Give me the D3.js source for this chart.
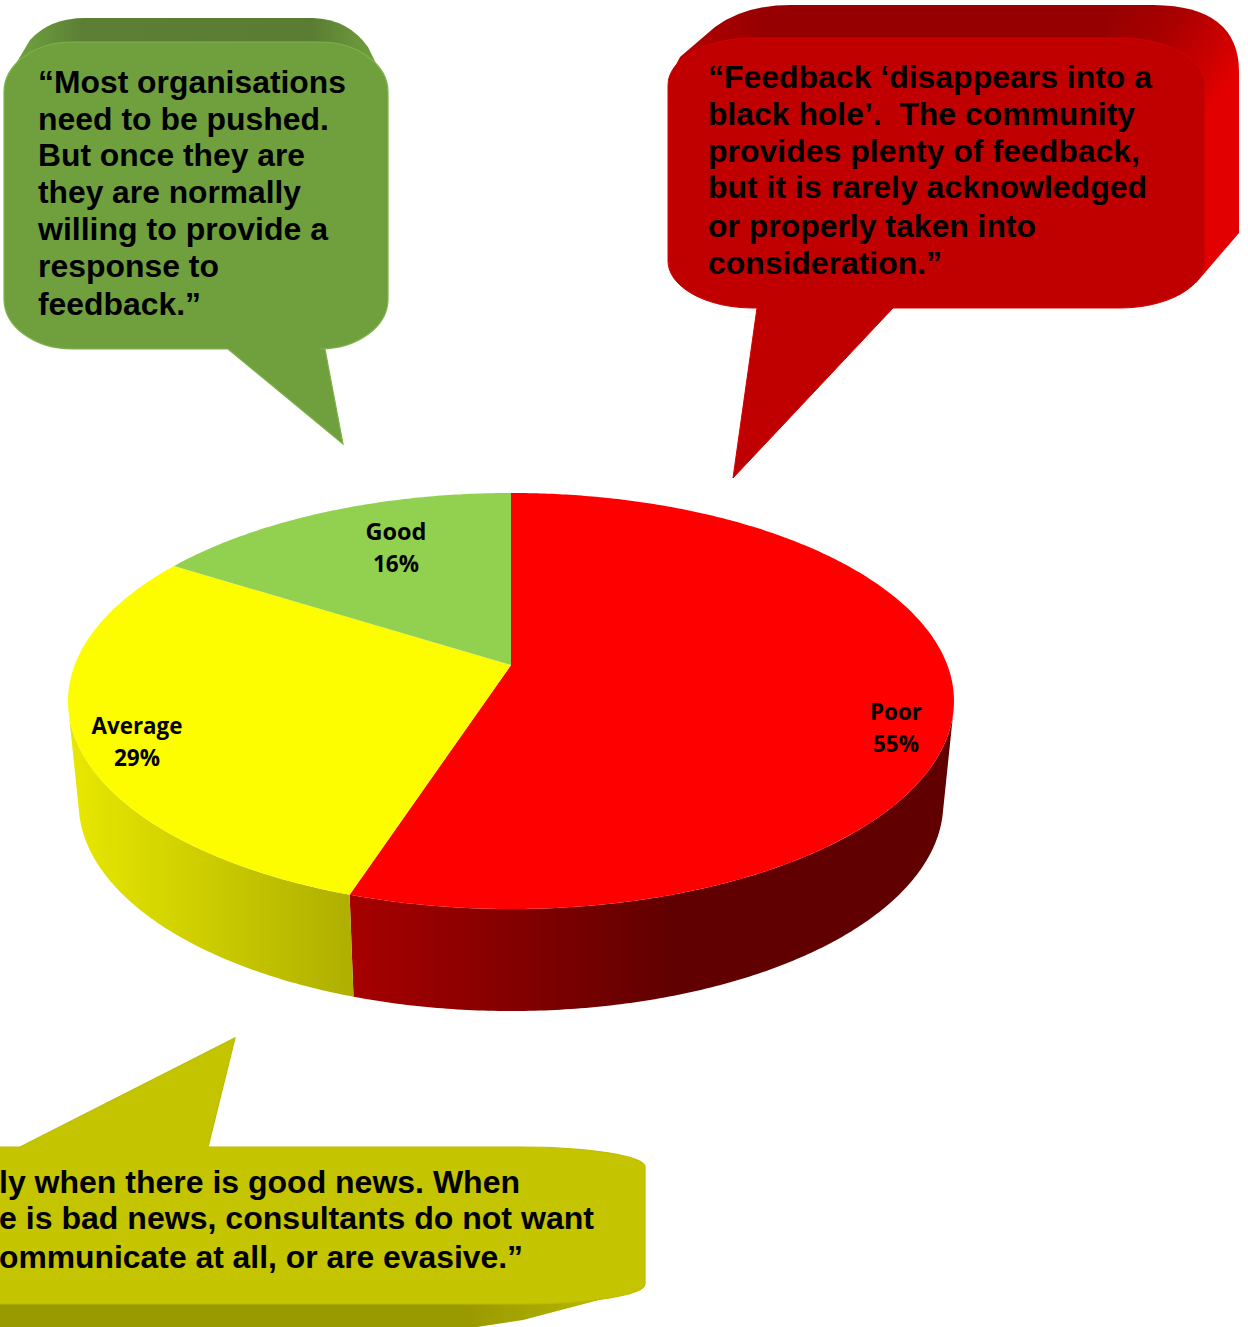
<!DOCTYPE html>
<html>
<head>
<meta charset="utf-8">
<script src="https://cdn.jsdelivr.net/npm/d3@7/dist/d3.min.js"></script>
<style>
  html, body { margin: 0; padding: 0; background: #fff; overflow: hidden; }
  svg { display: block; }
  .quote { font-family: "Liberation Sans", Arial, sans-serif; font-weight: 700; font-size: 31px; fill: #000; }
  .slice-label { font-family: "Open Sans", "Noto Sans", sans-serif; font-weight: 700; font-size: 24px; fill: #000; text-anchor: middle; }
</style>
</head>
<body>
<script>
// Survey results
const categories = ["Poor", "Average", "Good"];
const shares = [55, 29, 16];
const topColours = ["#ff0000", "#fdfd00", "#92d050"];

// Quotes, one entry per line
const greenQuote = ["“Most organisations", "need to be pushed.", "But once they are", "they are normally", "willing to provide a", "response to", "feedback.”"];
const redQuote = ["“Feedback ‘disappears into a", "black hole’.  The community", "provides plenty of feedback,", "but it is rarely acknowledged", "or properly taken into", "consideration.”"];
const yellowQuote = ["ly when there is good news. When", "e is bad news, consultants do not want", "ommunicate at all, or are evasive.”"];

// Fitted line widths and baselines for each quote
const greenWidths = [308, 291, 267, 263, 290, 181, 163];
const greenBaselines = [93, 130, 166, 203, 240, 277, 315];
const redWidths = [444, 427, 432, 439, 328, 234];
const redBaselines = [88, 125, 162, 198, 237, 274];
const yellowWidths = [521, 595, 524];
const yellowBaselines = [1193, 1229, 1268];

// Label anchors, as centre x and the two baselines
const labelX = [896, 137, 396];
const labelNameY = [720, 734, 540];
const labelWidths = [[52, 46], [91, 46], [61, 46]];

const W = 1248, H = 1327;
const svg = d3.select("body").append("svg").attr("width", W).attr("height", H);
const defs = svg.append("defs");

function gradient(id, x1, x2, stops, y1 = 0, y2 = 0) {
  const g = defs.append("linearGradient").attr("id", id)
    .attr("gradientUnits", "userSpaceOnUse")
    .attr("x1", x1).attr("x2", x2).attr("y1", y1).attr("y2", y2);
  stops.forEach(([o, c]) => g.append("stop").attr("offset", o).attr("stop-color", c));
  return `url(#${id})`;
}

// Pie disc seen in perspective: a circle passed through a homography, so the
// centre of the pie sits above the centre of the visible ellipse.
const apex = { x: 511, y: 665 };
const radiusX = 436.3, radiusY = 201.8, tilt = 0.173;
const depth = 102, baseShrink = 0.976;

function rimTop(a) {
  const u = Math.sin(a), v = -Math.cos(a), w = 1 - tilt * v;
  return [apex.x + radiusX * u / w, apex.y + radiusY * v / w];
}
function rimBase(a) {
  const [x, y] = rimTop(a);
  return [apex.x + (x - apex.x) * baseShrink, y + depth];
}
const sampleAngles = (a0, a1) => {
  const n = Math.max(2, Math.ceil(Math.abs(a1 - a0) / 0.01));
  return d3.range(n + 1).map(i => a0 + (a1 - a0) * i / n);
};
const polyline = d3.line();

const arcs = d3.pie().sort(null).value(d => d).startAngle(0).endAngle(2 * Math.PI)(shares);

// Rim wall, drawn first so the top face covers its upper edge. The wall only
// shows between the two silhouette angles on either side of the disc.
const wallFills = [
  gradient("wallRed", 345, 677, [[0, "#a80000"], [1, "#600000"]]),
  gradient("wallYellow", 80, 345, [[0, "#e6e600"], [1, "#b0b000"]])
];
const wallSpans = [
  [Math.PI * 0.575, arcs[0].endAngle],
  [arcs[1].startAngle, Math.PI * 1.425]
];
svg.append("g").selectAll("path").data(wallSpans).join("path")
  .attr("fill", (d, i) => wallFills[i])
  .attr("d", ([a0, a1]) => {
    const angles = sampleAngles(a0, a1);
    return polyline(angles.map(rimTop).concat(angles.slice().reverse().map(rimBase))) + "Z";
  });

// Top face slices
svg.append("g").selectAll("path").data(arcs).join("path")
  .attr("fill", (d, i) => topColours[i])
  .attr("d", d => polyline([[apex.x, apex.y]].concat(sampleAngles(d.startAngle, d.endAngle).map(rimTop))) + "Z");

// Slice labels
const labels = svg.append("g").selectAll("g").data(categories).join("g");
labels.append("text").attr("class", "slice-label")
  .attr("x", (d, i) => labelX[i]).attr("y", (d, i) => labelNameY[i])
  .attr("textLength", (d, i) => labelWidths[i][0]).attr("lengthAdjust", "spacingAndGlyphs")
  .text(d => d);
labels.append("text").attr("class", "slice-label")
  .attr("x", (d, i) => labelX[i]).attr("y", (d, i) => labelNameY[i] + 32)
  .attr("textLength", (d, i) => labelWidths[i][1]).attr("lengthAdjust", "spacingAndGlyphs")
  .text((d, i) => shares[i] + "%");

// Callout bubble: rounded box with elliptical corners and a pointed tail on
// the top or bottom edge.
function bubble(x0, y0, x1, y1, rx, ry, tail) {
  const c = (x, y) => `A${rx},${ry} 0 0 1 ${x},${y}`;
  let d = `M${x0 + rx},${y0}`;
  if (tail.side === "top") d += `L${tail.from},${y0}L${tail.tipX},${tail.tipY}L${tail.to},${y0}`;
  d += `L${x1 - rx},${y0}` + c(x1, y0 + ry) + `L${x1},${y1 - ry}` + c(x1 - rx, y1);
  if (tail.side === "bottom") d += `L${tail.from},${y1}L${tail.tipX},${tail.tipY}L${tail.to},${y1}`;
  d += `L${x0 + rx},${y1}` + c(x0, y1 - ry) + `L${x0},${y0 + ry}` + c(x0 + rx, y0) + "Z";
  return d;
}

function quoteLines(lines, widths, baselines, x) {
  svg.append("g").selectAll("text").data(lines).join("text")
    .attr("class", "quote")
    .attr("x", x).attr("y", (d, i) => baselines[i])
    .attr("textLength", (d, i) => widths[i]).attr("lengthAdjust", "spacingAndGlyphs")
    .style("white-space", "pre")
    .text(d => d);
}

// Green callout
svg.append("path")
  .attr("d", "M5,82 L30,40 Q50,18 85,18 L313,18 Q348,19 368,47 L387,86 L387,110 L5,110 Z")
  .attr("fill", gradient("greenBack", 4, 388, [[0, "#70a03e"], [0.07, "#6c9b3c"], [0.2, "#5c7f35"], [0.8, "#5a7d33"], [0.93, "#6a973b"], [1, "#70a03e"]]));
svg.append("path")
  .attr("d", bubble(4, 42, 388, 349, 68, 50, { side: "bottom", from: 325, tipX: 343, tipY: 444, to: 228 }))
  .attr("fill", "#70a03e").attr("stroke", "#7cb349").attr("stroke-width", 1.2);
quoteLines(greenQuote, greenWidths, greenBaselines, 38);

// Red callout: top band, then the lit side wall
svg.append("path")
  .attr("d", "M668,80 L680,57 L715,27 Q745,5 791,5 L1110,5 L1110,120 L700,120 Z")
  .attr("fill", gradient("redBack", 668, 1110, [[0, "#c00000"], [0.1, "#a80000"], [0.22, "#960000"], [1, "#960000"]]));
svg.append("path")
  .attr("d", "M1109,5 L1154,5 Q1239,6 1239,72 L1239,233 L1196,283 L1109,200 Z")
  .attr("fill", gradient("redSide", 1110, 1225, [[0, "#960000"], [0.45, "#aa0000"], [0.8, "#cc0000"], [1, "#e20000"]], 5, 85));
svg.append("path")
  .attr("d", bubble(668, 38, 1205, 308, 85, 47, { side: "bottom", from: 893, tipX: 733, tipY: 478, to: 757 }))
  .attr("fill", "#c00000").attr("stroke", "#d40000").attr("stroke-width", 1);
quoteLines(redQuote, redWidths, redBaselines, 708);

// Olive callout, running off the left edge of the page
svg.append("path")
  .attr("d", "M618,1295 L523,1320 L477,1327 L-10,1327 L-10,1280 L618,1280 Z")
  .attr("fill", gradient("oliveBack", 0, 645, [[0, "#999900"], [0.72, "#999900"], [0.85, "#aaaa00"], [1, "#c4c400"]]));
svg.append("path")
  .attr("d", bubble(-260, 1147, 645, 1304, 126, 20, { side: "top", from: 20, tipX: 235, tipY: 1038, to: 208 }))
  .attr("fill", "#c4c400").attr("stroke", "#bcbc00").attr("stroke-width", 1.2);
quoteLines(yellowQuote, yellowWidths, yellowBaselines, -1);
</script>
</body>
</html>
